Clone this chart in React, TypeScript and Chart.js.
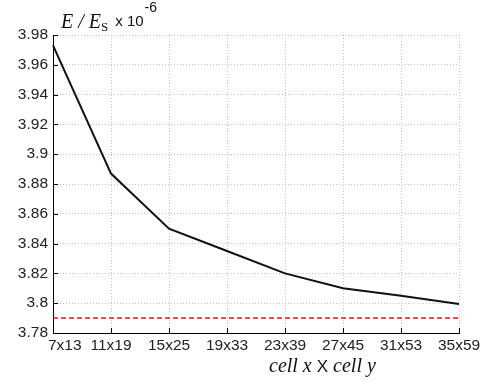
import React, { useEffect, useRef } from "react";
import { Chart, registerables } from "chart.js";

Chart.register(...registerables);

const categories = ["7x13", "11x19", "15x25", "19x33", "23x39", "27x45", "31x53", "35x59"];
const energyValues = [3.973, 3.887, 3.85, 3.835, 3.82, 3.81, 3.805, 3.7995];
const referenceValues = [3.79, 3.79, 3.79, 3.79, 3.79, 3.79, 3.79, 3.79];
const yTickValues = [3.78, 3.8, 3.82, 3.84, 3.86, 3.88, 3.9, 3.92, 3.94, 3.96, 3.98];

const SANS = '"Liberation Sans", Arial, Helvetica, sans-serif';
const SERIF = '"Liberation Serif", "Times New Roman", serif';

const decorPlugin = {
  id: "decor",
  beforeDraw(chart: any) {
    // the first category label sits right of its tick, starting just left of the axis
    const xs = chart.scales.x;
    const items = xs.getLabelItems(chart.chartArea);
    if (items && items.length) {
      const first = items[0];
      first.options.textAlign = "left";
      first.options.translation = [chart.chartArea.left - 5, first.options.translation[1]];
    }
  },
  afterDraw(chart: any) {
    const ctx = chart.ctx as CanvasRenderingContext2D;
    const area = chart.chartArea;
    const xs = chart.scales.x;
    const ys = chart.scales.y;
    ctx.save();
    // inward ticks
    ctx.strokeStyle = "#000";
    ctx.lineWidth = 1;
    ctx.beginPath();
    for (let i = 0; i < xs.ticks.length; i++) {
      const px = Math.round(xs.getPixelForTick(i)) + 0.5;
      ctx.moveTo(px, area.bottom);
      ctx.lineTo(px, area.bottom - 5);
    }
    for (let i = 0; i < ys.ticks.length; i++) {
      const py = Math.round(ys.getPixelForTick(i)) + 0.5;
      ctx.moveTo(area.left, py);
      ctx.lineTo(area.left + 5, py);
    }
    ctx.stroke();

    // y title
    ctx.fillStyle = "#111";
    ctx.textBaseline = "alphabetic";
    ctx.textAlign = "left";
    let x = 61;
    ctx.font = "italic 20px " + SERIF;
    ctx.fillText("E / E", x, 28);
    x += ctx.measureText("E / E").width;
    ctx.font = "13px " + SERIF;
    ctx.fillText("S", x, 31);
    x += ctx.measureText("S").width + 7;
    ctx.font = "15px " + SANS;
    ctx.fillText("x 10", x, 26);
    x += ctx.measureText("x 10").width + 1;
    ctx.font = "14px " + SANS;
    ctx.fillText("-6", x, 12);

    // x title
    let tx = 269;
    const ty = 372;
    ctx.font = "italic 20px " + SERIF;
    ctx.fillText("cell x ", tx, ty);
    tx += ctx.measureText("cell x ").width;
    ctx.font = "17px " + SANS;
    ctx.fillText("X", tx, ty);
    tx += ctx.measureText("X").width;
    ctx.font = "italic 20px " + SERIF;
    ctx.fillText(" cell y", tx, ty);
    ctx.restore();
  },
};

export default function App() {
  const ref = useRef<HTMLCanvasElement | null>(null);
  useEffect(() => {
    if (!ref.current) return;
    const chart = new Chart(ref.current, {
      type: "line",
      data: {
        labels: categories,
        datasets: [
          {
            data: energyValues,
            borderColor: "#111",
            borderWidth: 2,
            pointRadius: 0,
            tension: 0,
            fill: false,
          },
          {
            data: referenceValues,
            borderColor: "#e8101c",
            borderWidth: 1.5,
            borderDash: [5, 3],
            pointRadius: 0,
            fill: false,
          },
        ],
      },
      options: {
        responsive: false,
        animation: false,
        events: [],
        layout: { padding: { top: 35, right: 31, bottom: 0, left: 0 } },
        plugins: { legend: { display: false }, tooltip: { enabled: false } },
        scales: {
          x: {
            offset: false,
            grid: { color: "#c4c4c4", lineWidth: 1, drawTicks: false },
            border: { display: true, color: "#000", width: 1, dash: [1, 2] },
            ticks: {
              autoSkip: false,
              maxRotation: 0,
              minRotation: 0,
              padding: 3,
              color: "#222",
              font: { family: SANS, size: 15.5 },
            },
            afterFit: (s: any) => {
              s.height = 48;
            },
          },
          y: {
            min: 3.78,
            max: 3.98,
            grid: { color: "#c4c4c4", lineWidth: 1, drawTicks: false },
            border: { display: true, color: "#000", width: 1, dash: [1, 2] },
            afterBuildTicks: (s: any) => {
              s.ticks = yTickValues.map((v) => ({ value: v }));
            },
            ticks: {
              padding: 5,
              color: "#222",
              font: { family: SANS, size: 15.5 },
              callback: (v: any) => String(Number(Number(v).toFixed(2))),
            },
            afterFit: (s: any) => {
              s.width = 53;
            },
          },
        },
      },
      plugins: [decorPlugin],
    });
    return () => chart.destroy();
  }, []);
  return (
    <div style={{ position: "absolute", left: 0, top: 0, width: 490, height: 381, background: "#fff" }}>
      <canvas ref={ref} width={490} height={381} />
    </div>
  );
}
